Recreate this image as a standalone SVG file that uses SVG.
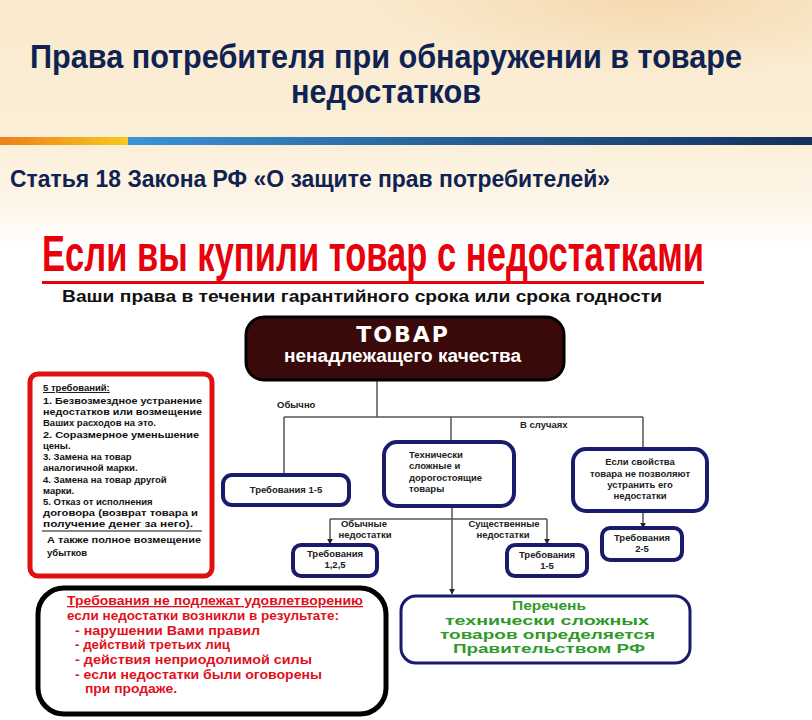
<svg xmlns="http://www.w3.org/2000/svg" width="812" height="720" viewBox="0 0 812 720">
  <defs>
    <linearGradient id="bg" x1="0" y1="0" x2="0" y2="1">
      <stop offset="0" stop-color="#faeacd"/>
      <stop offset="0.2" stop-color="#fbefd9"/>
      <stop offset="0.29" stop-color="#fdf6ea"/>
      <stop offset="0.34" stop-color="#ffffff"/>
      <stop offset="1" stop-color="#ffffff"/>
    </linearGradient>
    <radialGradient id="glow" cx="0.8" cy="0" r="0.35">
      <stop offset="0" stop-color="#f3d2a2" stop-opacity="0.7"/>
      <stop offset="1" stop-color="#f3d2a2" stop-opacity="0"/>
    </radialGradient>
    <linearGradient id="barO" x1="0" y1="0" x2="1" y2="0">
      <stop offset="0" stop-color="#ee7f1a"/>
      <stop offset="1" stop-color="#f6c91c"/>
    </linearGradient>
    <linearGradient id="barB" x1="0" y1="0" x2="1" y2="0">
      <stop offset="0" stop-color="#3b93d6"/>
      <stop offset="0.5" stop-color="#245d93"/>
      <stop offset="1" stop-color="#14305e"/>
    </linearGradient>
    <marker id="arr" viewBox="0 0 10 10" refX="9" refY="5" markerWidth="6" markerHeight="6" orient="auto" markerUnits="userSpaceOnUse">
      <path d="M0,0 L10,5 L0,10 z" fill="#222"/>
    </marker>
  </defs>
  <style>
    .hdr { font-family: "Liberation Sans", Arial, sans-serif; font-weight: bold; fill: #0f2352; }
    .nb { fill: #ffffff; stroke: #1b1b6e; stroke-width: 4; }
    .t { font-family: "Liberation Sans", Arial, sans-serif; font-weight: bold; font-size: 9.5px; fill: #222; }
    .lst { font-family: "Liberation Sans", Arial, sans-serif; font-weight: bold; font-size: 9.5px; fill: #111; }
    .red { font-family: "Liberation Sans", Arial, sans-serif; font-weight: bold; font-size: 13px; fill: #e01020; }
    .grn { font-family: "Liberation Sans", Arial, sans-serif; font-weight: bold; font-size: 12px; fill: #2f9a2a; }
    .con { fill: none; stroke: #555; stroke-width: 1.5; }
  </style>

  <rect x="0" y="0" width="812" height="720" fill="url(#bg)"/>
  <rect x="0" y="0" width="812" height="225" fill="url(#glow)"/>

  <text class="hdr" x="30" y="68" font-size="33" textLength="712" lengthAdjust="spacingAndGlyphs">Права потребителя при обнаружении в товаре</text>
  <text class="hdr" x="291" y="103" font-size="33" textLength="190" lengthAdjust="spacingAndGlyphs">недостатков</text>

  <rect x="0" y="137" width="128" height="8" fill="url(#barO)"/>
  <rect x="128" y="137" width="684" height="8" fill="url(#barB)"/>

  <text class="hdr" x="10" y="187" font-size="23" textLength="600" lengthAdjust="spacingAndGlyphs">Статья 18 Закона РФ «О защите прав потребителей»</text>

  <text x="42" y="271" font-family="Liberation Sans, Arial, sans-serif" font-weight="bold" font-size="50" fill="#e8000b" textLength="662" lengthAdjust="spacingAndGlyphs">Если вы купили товар с недостатками</text>
  <rect x="42" y="281" width="662" height="3" fill="#e8000b"/>
  <text x="62" y="302" font-family="Liberation Sans, Arial, sans-serif" font-weight="bold" font-size="17" fill="#111" textLength="600" lengthAdjust="spacingAndGlyphs">Ваши права в течении гарантийного срока или срока годности</text>

  <g id="connectors">
    <path class="con" d="M377 381 V417"/>
    <path class="con" d="M284 417 H643"/>
    <path class="con" d="M284 417 V475"/>
    <path class="con" d="M451 417 V442"/>
    <path class="con" d="M643 417 V449"/>
    <path class="con" d="M452 507 V594" marker-end="url(#arr)"/>
    <path class="con" d="M330 519 H547"/>
    <path class="con" d="M330 519 V544" marker-end="url(#arr)"/>
    <path class="con" d="M547 519 V544" marker-end="url(#arr)"/>
    <path class="con" d="M643 513 V528" marker-end="url(#arr)"/>
    <text class="t" x="277" y="408" font-size="8">Обычно</text>
    <text class="t" x="520" y="428" font-size="8">В случаях</text>
    <text class="t" x="364" y="527" text-anchor="middle">Обычные</text>
    <text class="t" x="365" y="538" text-anchor="middle">недостатки</text>
    <text class="t" x="504" y="527" text-anchor="middle">Существенные</text>
    <text class="t" x="503" y="538" text-anchor="middle">недостатки</text>
  </g>

  <g id="tovar">
    <rect x="246" y="317" width="318" height="63" rx="18" fill="#3a0909" stroke="#000" stroke-width="3"/>
    <text x="403" y="342" text-anchor="middle" font-family="DejaVu Sans, Verdana, sans-serif" font-weight="bold" font-size="22" fill="#fff" letter-spacing="2">ТОВАР</text>
    <text x="284" y="362" font-family="Liberation Sans, Arial, sans-serif" font-weight="bold" font-size="18" fill="#fff" textLength="237" lengthAdjust="spacingAndGlyphs">ненадлежащего качества</text>
  </g>

  <g id="five-req">
    <rect x="30" y="374" width="182" height="202" rx="8" fill="#fff" stroke="#e01010" stroke-width="5"/>
    <text class="lst" x="43" y="391" text-decoration="underline">5 требований:</text>
    <text class="lst" x="43" y="404" textLength="159" lengthAdjust="spacingAndGlyphs">1. Безвозмездное устранение</text>
    <text class="lst" x="43" y="415" textLength="159" lengthAdjust="spacingAndGlyphs">недостатков или возмещение</text>
    <text class="lst" x="43" y="426">Ваших расходов на это.</text>
    <text class="lst" x="43" y="438" textLength="156" lengthAdjust="spacingAndGlyphs">2. Соразмерное уменьшение</text>
    <text class="lst" x="43" y="449">цены.</text>
    <text class="lst" x="43" y="460">3. Замена на товар</text>
    <text class="lst" x="43" y="471">аналогичной марки.</text>
    <text class="lst" x="43" y="483">4. Замена на товар другой</text>
    <text class="lst" x="43" y="494">марки.</text>
    <text class="lst" x="43" y="505">5. Отказ от исполнения</text>
    <text class="lst" x="43" y="516" textLength="155" lengthAdjust="spacingAndGlyphs">договора (возврат товара и</text>
    <text class="lst" x="43" y="527" textLength="150" lengthAdjust="spacingAndGlyphs">получение денег за него).</text>
    <line x1="42" y1="531" x2="202" y2="531" stroke="#111" stroke-width="1.2"/>
    <text class="lst" x="47" y="543" textLength="154" lengthAdjust="spacingAndGlyphs">А также полное возмещение</text>
    <text class="lst" x="47" y="556">убытков</text>
  </g>

  <g id="req15">
    <rect class="nb" x="223" y="475" width="126" height="30" rx="9"/>
    <text class="t" x="286" y="493" text-anchor="middle">Требования 1-5</text>
  </g>

  <g id="tech">
    <rect class="nb" x="384" y="442" width="130" height="64" rx="13"/>
    <text class="t" x="409" y="458">Технически</text>
    <text class="t" x="409" y="469">сложные и</text>
    <text class="t" x="409" y="481">дорогостоящие</text>
    <text class="t" x="409" y="492">товары</text>
  </g>

  <g id="props">
    <rect class="nb" x="573" y="449" width="134" height="62" rx="13"/>
    <text class="t" x="640" y="465" text-anchor="middle">Если свойства</text>
    <text class="t" x="640" y="477" text-anchor="middle">товара не позволяют</text>
    <text class="t" x="640" y="488" text-anchor="middle">устранить его</text>
    <text class="t" x="640" y="499" text-anchor="middle">недостатки</text>
  </g>

  <g id="req125">
    <rect class="nb" x="293" y="545" width="84" height="31" rx="8"/>
    <text class="t" x="335" y="557" text-anchor="middle">Требования</text>
    <text class="t" x="335" y="568" text-anchor="middle">1,2,5</text>
  </g>

  <g id="req15b">
    <rect class="nb" x="507" y="545" width="80" height="31" rx="8"/>
    <text class="t" x="547" y="558" text-anchor="middle">Требования</text>
    <text class="t" x="547" y="569" text-anchor="middle">1-5</text>
  </g>

  <g id="req25">
    <rect class="nb" x="602" y="528" width="80" height="32" rx="8"/>
    <text class="t" x="642" y="541" text-anchor="middle">Требования</text>
    <text class="t" x="642" y="552" text-anchor="middle">2-5</text>
  </g>

  <g id="list">
    <rect x="401" y="596" width="289" height="67" rx="15" fill="#fff" stroke="#1b1b6e" stroke-width="3"/>
    <text class="grn" x="512" y="610" textLength="74" lengthAdjust="spacingAndGlyphs">Перечень</text>
    <text class="grn" x="445" y="625" textLength="204" lengthAdjust="spacingAndGlyphs">технически сложных</text>
    <text class="grn" x="440" y="639" textLength="215" lengthAdjust="spacingAndGlyphs">товаров определяется</text>
    <text class="grn" x="453" y="653" textLength="192" lengthAdjust="spacingAndGlyphs">Правительством РФ</text>
  </g>

  <g id="exceptions">
    <rect x="38" y="588" width="348" height="126" rx="26" fill="#fff" stroke="#000" stroke-width="5"/>
    <text class="red" x="67" y="605" text-decoration="underline" textLength="296" lengthAdjust="spacingAndGlyphs">Требования не подлежат удовлетворению</text>
    <text class="red" x="67" y="620" textLength="272" lengthAdjust="spacingAndGlyphs">если недостатки возникли в результате:</text>
    <text class="red" x="75" y="635" textLength="185" lengthAdjust="spacingAndGlyphs">- нарушении Вами правил</text>
    <text class="red" x="75" y="649" textLength="155" lengthAdjust="spacingAndGlyphs">- действий третьих лиц</text>
    <text class="red" x="75" y="664" textLength="237" lengthAdjust="spacingAndGlyphs">- действия неприодолимой силы</text>
    <text class="red" x="75" y="679" textLength="247" lengthAdjust="spacingAndGlyphs">- если недостатки были оговорены</text>
    <text class="red" x="85" y="693" textLength="92" lengthAdjust="spacingAndGlyphs">при продаже.</text>
  </g>
</svg>
